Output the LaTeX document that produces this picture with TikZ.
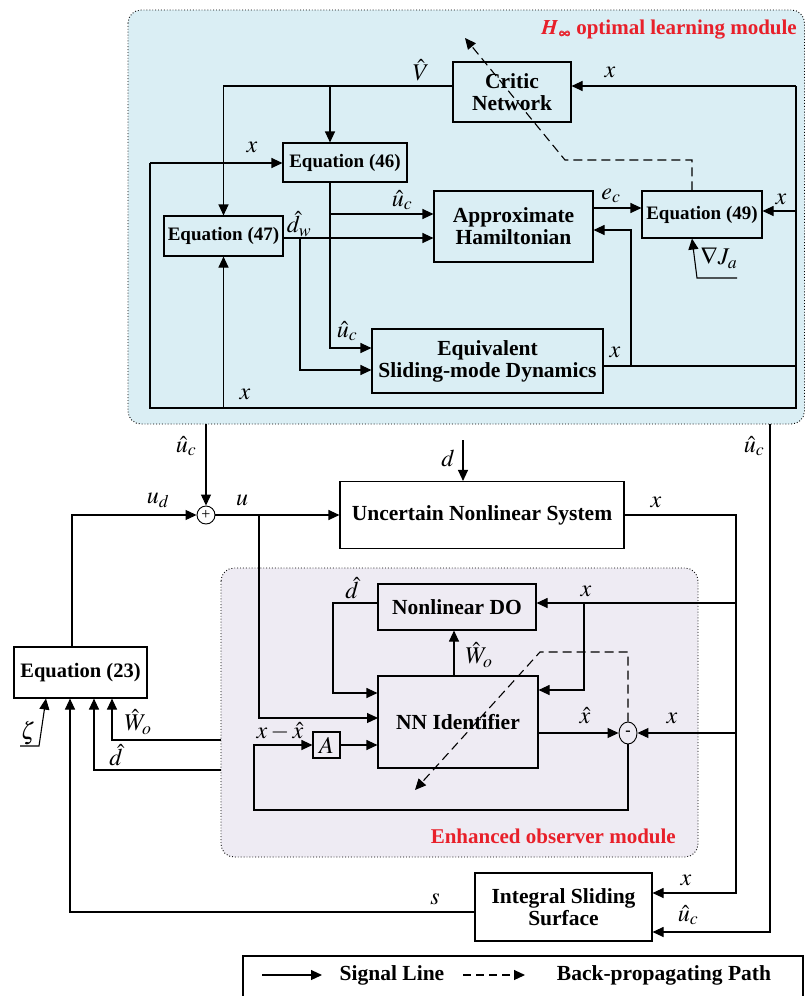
\documentclass[tikz,border=0pt]{standalone}
\usepackage{amsmath}
\usepackage{mathptmx}
\usepackage{bm}
\usepackage{fontspec}
\setmainfont{Liberation Serif}
\usetikzlibrary{arrows.meta,calc,shapes.geometric}
\definecolor{topfill}{HTML}{DAEEF4}
\definecolor{obsfill}{HTML}{EEEBF3}
\definecolor{titlered}{HTML}{E8202A}
\tikzset{
  blk/.style={draw, line width=1.1pt, align=center, inner sep=0pt,
    font=\bfseries\fontsize{21.5}{22}\selectfont},
  eqf/.style={font=\bfseries\fontsize{19}{22}\selectfont},
  sig/.style={line width=1.1pt, -{Triangle[length=11pt,width=10pt]}},
  ln/.style={line width=1.1pt},
  bp/.style={line width=1.1pt, dash pattern=on 9pt off 5pt, -{Triangle[length=11pt,width=10pt]}},
  lbl/.style={font=\fontsize{24}{26}\selectfont, inner sep=0pt},
  modbox/.style={draw, dotted, line width=0.9pt, rounded corners=13pt},
  ttl/.style={font=\bfseries\fontsize{21}{23}\selectfont, text=titlered, anchor=east, inner sep=0pt},
  sumc/.style={draw, circle, line width=0.9pt, minimum size=18pt, inner sep=0pt, fill=white}
}
\begin{document}
\begin{tikzpicture}[x=1pt,y=-1pt]
\useasboundingbox (0,0) rectangle (806,996);
% modules
\path[modbox, fill=topfill] (128,10) rectangle (804.5,424);
\path[modbox, fill=obsfill] (221,568) rectangle (698,857);
\node[ttl] (t1) at (797,30) {$\bm{H_\infty}$ optimal learning module};
\node[ttl] (t2) at (676,836) {Enhanced observer module};

% top boxes
\node[blk, minimum width=118pt, minimum height=60pt] (critic) at (512,92) {Critic\\Network};
\node[blk, eqf, minimum width=124pt, minimum height=39pt] (eq46) at (345,162.5) {Equation (46)};
\node[blk, eqf, minimum width=119pt, minimum height=40pt] (eq47) at (223.5,236) {Equation (47)};
\node[blk, minimum width=159pt, minimum height=71pt] (ah) at (513.5,226.5) {Approximate\\Hamiltonian};
\node[blk, eqf, minimum width=120pt, minimum height=47pt] (eq49) at (702,214.5) {Equation (49)};
\node[blk, minimum width=231pt, minimum height=64pt] (esd) at (487.5,361) {Equivalent\\Sliding-mode Dynamics};

% bus coordinates
\coordinate (rbt) at (796,86);
\coordinate (rbb) at (796,408);
\coordinate (lbb) at (150,408);
\coordinate (lbt) at (150,163);

\draw[sig] (critic.west |- 0,86) -| (eq47.north);
\draw[sig] (330,86) -- (eq46.north -| 330,0);
\draw[ln] (rbt) -- (rbb) -- (lbb) -- (lbt);
\draw[sig] (lbt) -- (eq46.west |- lbt);
\draw[sig] (rbt) -- (critic.east |- rbt);
\draw[sig] (796,211) -- (eq49.east |- 0,211);
\draw[sig] (eq47.south |- lbb) -- (eq47.south);
\draw[sig] (eq46.south -| 330,0) -- (330,348) -- (esd.west |- 0,348);
\draw[sig] (330,214) -- (ah.west |- 0,214);
\draw[sig] (eq47.east |- 0,238) -- (ah.west |- 0,238);
\draw[sig] (300,238) -- (300,370) -- (esd.west |- 0,370);
\draw[sig] (ah.east |- 0,208) -- (eq49.west |- 0,208);
\draw[ln] (esd.east |- 0,366) -- (796,366);
\draw[sig] (631,366) -- (631,230) -- (ah.east |- 0,230);
\draw[sig] (737,278) -- (697,278) -- (eq49.south -| 692,0);
\draw[bp] (eq49.north -| 692,0) -- (692,160) -- (565,160) -- (465,38);

\node[lbl] (lV) at (421,70) {$\hat{V}$};
\node[lbl] (lx1) at (610,72) {$x$};
\node[lbl] (lx2) at (252,147) {$x$};
\node[lbl] (lu1) at (402,200) {$\hat{u}_c$};
\node[lbl] (ldw) at (299,224) {$\hat{d}_w$};
\node[lbl] (lec) at (611,196) {$e_c$};
\node[lbl] (lx3) at (781,199) {$x$};
\node[lbl] (lJ) at (719,258) {$\nabla J_a$};
\node[lbl] (lu2) at (347,331) {$\hat{u}_c$};
\node[lbl] (lx4) at (615,352) {$x$};
\node[lbl] (lx5) at (245,394) {$x$};

% middle
\node[blk, minimum width=284pt, minimum height=67pt] (uns) at (482,515) {Uncertain Nonlinear System};
\node[sumc] (sum) at (206,515) {\fontsize{16}{16}\selectfont +};
\node[blk, font=\bfseries\fontsize{20.5}{22}\selectfont, minimum width=133pt, minimum height=51pt] (eq23) at (80.5,672.5) {Equation (23)};
\node[blk, minimum width=177pt, minimum height=68pt] (iss) at (563.5,907) {Integral Sliding\\Surface};

\draw[sig] (206,424) -- (sum.north);
\draw[sig] (eq23.north -| 72,0) -- (72,515) -- (sum.west);
\draw[sig] (sum.east) -- (uns.west);
\draw[sig] (259,515) -- (259,718) -- (378,718) ;
\draw[sig] (463,440) -- (uns.north -| 463,0);
\draw[sig] (uns.east) -- (736,515) -- (736,893) -- (iss.east |- 0,893);
\draw[sig] (770,424) -- (770,932) -- (iss.east |- 0,932);

\node[lbl] (luc3) at (186,446) {$\hat{u}_c$};
\node[lbl] (lud) at (158,500) {$u_d$};
\node[lbl] (lu) at (242,500) {$u$};
\node[lbl] (ld) at (448,458) {$d$};
\node[lbl] (lx6) at (656,502) {$x$};
\node[lbl] (luc4) at (754,446) {$\hat{u}_c$};
\node[lbl] (lx7) at (686,880) {$x$};
\node[lbl] (luc5) at (688,915) {$\hat{u}_c$};

% observer
\node[blk, minimum width=158pt, minimum height=46pt] (ndo) at (457,607) {Nonlinear DO};
\node[blk, minimum width=160pt, minimum height=92pt, fill=obsfill] (nni) at (458,722) {NN Identifier};
\node[draw, line width=1.1pt, minimum width=27pt, minimum height=26pt, inner sep=0pt, font=\fontsize{24}{26}\selectfont] (abox) at (326.5,745) {$A$};
\node[draw, ellipse, line width=0.9pt, minimum width=18pt, minimum height=22pt, inner sep=0pt, fill=obsfill] (minus) at (628,733) {\bfseries\fontsize{16}{16}\selectfont -};

\draw[sig] (736,603) -- (ndo.east |- 0,603);
\draw[sig] (584,603) -- (584,690) -- (nni.east |- 0,690);
\draw[sig] (736,733) -- (minus.east);
\draw[sig] (nni.north -| 454,0) -- (ndo.south -| 454,0);
\draw[sig] (ndo.west |- 0,603) -- (333,603) -- (333,693) -- (nni.west |- 0,693);
\draw[sig] (nni.east |- 0,733) -- (minus.west);
\draw[sig] (minus.south) -- (628,810) -- (254,810) -- (254,745) -- (abox.west);
\draw[sig] (abox.east) -- (nni.west |- abox.east);
\draw[bp] (minus.north) -- (628,652) -- (540,652) -- (415,790);

\node[lbl] (lx8) at (586,591) {$x$};
\node[lbl] (lWo) at (479,655) {$\hat{W}_o$};
\node[lbl] (ldh) at (352,588) {$\hat{d}$};
\node[lbl] (lxh) at (585,716) {$\hat{x}$};
\node[lbl] (lx9) at (672,718) {$x$};
\node[lbl] (lxx) at (280,731) {$x-\hat{x}$};

% to equation 23
\draw[sig] (221,740) -- (112,740) -- (eq23.south -| 112,0);
\draw[sig] (221,770) -- (94,770) -- (eq23.south -| 94,0);
\draw[sig] (iss.west |- 0,912) -- (70,912) -- (eq23.south -| 70,0);
\draw[sig] (20,746) -- (39,746) -- (eq23.south -| 46,0);
\node[lbl] (lWo2) at (138,722) {$\hat{W}_o$};
\node[lbl] (ldh2) at (116,755) {$\hat{d}$};
\node[lbl] (ls) at (435,899) {$s$};
\node[lbl] (lz) at (28,733) {$\zeta$};

% legend
\draw[line width=1.1pt] (243,998) -- (243,956) -- (803,956) -- (803,998);
\coordinate (la1) at (262,975); \coordinate (la2) at (322,975);
\coordinate (lb1) at (463,975); \coordinate (lb2) at (525,975);
\draw[sig] (la1) -- (la2);
\draw[bp, dash pattern=on 8pt off 5pt] (lb1) -- (lb2);
\node[font=\bfseries\fontsize{21.5}{22}\selectfont] (leg1) at (392,975) {Signal Line};
\node[font=\bfseries\fontsize{21.5}{22}\selectfont] (leg2) at (664,975) {Back-propagating Path};
\end{tikzpicture}
\end{document}
